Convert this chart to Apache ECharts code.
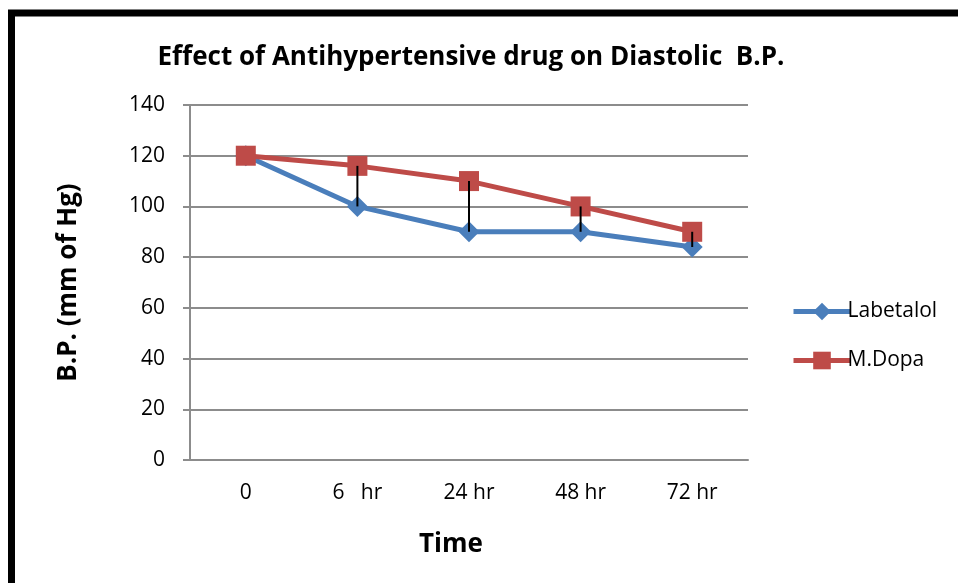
<!DOCTYPE html>
<html>
<head>
<meta charset="utf-8">
<script src="https://cdn.jsdelivr.net/npm/echarts@6/dist/echarts.min.js"></script>
<style>
html,body{margin:0;padding:0;background:#fff;}
#main{width:958px;height:583px;}
</style>
</head>
<body>
<div id="main"></div>
<script>
var categories = ['0', '6   hr', '24 hr', '48 hr', '72 hr'];
var labetalol = [120, 100, 90, 90, 84];
var mdopa = [120, 116, 110, 100, 90];
var yTicks = [0, 20, 40, 60, 80, 100, 120, 140];

var font = 'Open Sans';
var chart = echarts.init(document.getElementById('main'));

// high-low lines between the two series
var hiLo = categories.map(function (c, i) {
	return [i, mdopa[i], labetalol[i]];
});

chart.setOption({
	animation: false,
	textStyle: { fontFamily: font },
	graphic: [{
		type: 'rect',
		shape: { x: 11.5, y: 13, width: 980, height: 620 },
		style: { fill: 'none', stroke: '#000', lineWidth: 7 },
		silent: true
	}],
	title: {
		text: 'Effect of Antihypertensive drug on Diastolic  B.P.',
		left: 466,
		top: 40,
		textAlign: 'center',
		textStyle: { fontFamily: font, fontSize: 26, fontWeight: 'bold', color: '#000' }
	},
	legend: {
		data: ['Labetalol', 'M.Dopa'],
		orient: 'vertical',
		left: 786,
		top: 296,
		itemWidth: 57,
		itemHeight: 22,
		itemGap: 28,
		lineStyle: { width: 5 },
		textStyle: { fontFamily: font, fontSize: 21, color: '#000', padding: [0, 0, 0, -8] }
	},
	grid: { left: 190, right: 210, top: 105, bottom: 123 },
	xAxis: {
		type: 'category',
		data: categories,
		name: 'Time',
		nameLocation: 'middle',
		nameGap: 72,
		nameTextStyle: { fontFamily: font, fontSize: 26, fontWeight: 'bold', color: '#000', padding: [0, 36, 0, 0] },
		axisLine: { lineStyle: { color: '#8c8c8c', width: 2 } },
		axisTick: { show: false },
		axisLabel: { fontFamily: font, fontSize: 21, color: '#000', margin: 23 }
	},
	yAxis: {
		type: 'value',
		min: yTicks[0],
		max: yTicks[yTicks.length - 1],
		interval: 20,
		name: 'B.P. (mm of Hg)',
		nameLocation: 'middle',
		nameGap: 108,
		nameRotate: 90,
		nameTextStyle: { fontFamily: font, fontSize: 26, fontWeight: 'bold', color: '#000' },
		axisLine: { show: true, lineStyle: { color: '#8c8c8c', width: 2 } },
		axisTick: { show: true, length: 7, lineStyle: { color: '#8c8c8c', width: 2 } },
		axisLabel: { fontFamily: font, fontSize: 21, color: '#000', margin: 25 },
		splitLine: { lineStyle: { color: '#8c8c8c', width: 2 } }
	},
	series: [
		{
			name: 'Labetalol',
			type: 'line',
			data: labetalol,
			symbol: 'diamond',
			symbolSize: 21,
			lineStyle: { color: '#4a7ebb', width: 5 },
			itemStyle: { color: '#4a7ebb' },
			z: 3
		},
		{
			name: 'M.Dopa',
			type: 'line',
			data: mdopa,
			symbol: 'rect',
			symbolSize: 20,
			lineStyle: { color: '#be4b48', width: 5 },
			itemStyle: { color: '#be4b48' },
			z: 4
		},
		{
			name: 'hilo',
			type: 'custom',
			data: hiLo,
			z: 5,
			renderItem: function (params, api) {
				var p1 = api.coord([api.value(0), api.value(1)]);
				var p2 = api.coord([api.value(0), api.value(2)]);
				return {
					type: 'line',
					shape: { x1: p1[0], y1: p1[1], x2: p2[0], y2: p2[1] },
					style: { stroke: '#000', lineWidth: 2 }
				};
			}
		}
	]
});
</script>
</body>
</html>
